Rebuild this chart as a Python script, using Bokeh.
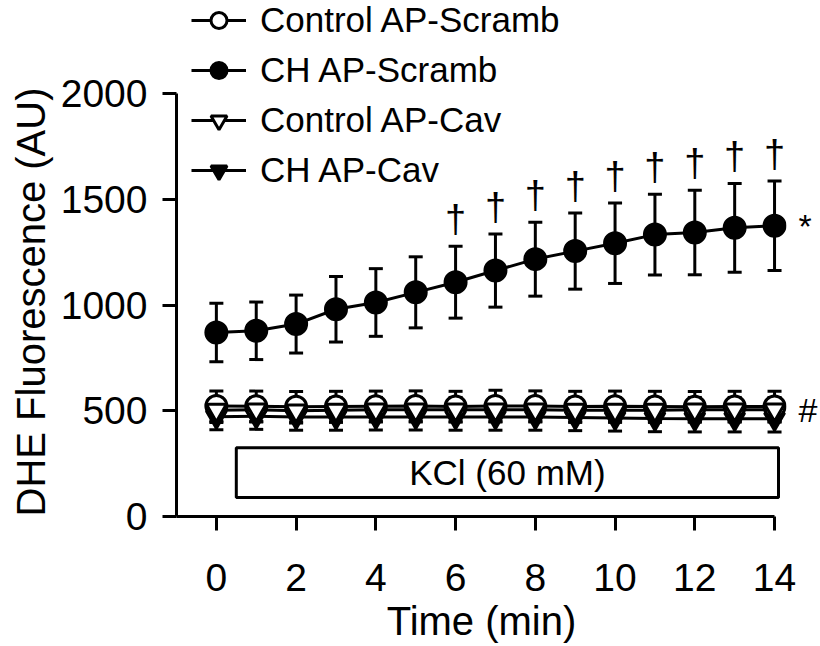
import math
from bokeh.plotting import figure
from bokeh.models import (ColumnDataSource, Whisker, TeeHead, Legend, LegendItem,
                          FixedTicker, Range1d, LinearAxis, Title)
from bokeh.core.properties import value
from bokeh.embed import file_html
from bokeh.resources import INLINE

# ---------------- data ----------------
time_min = [0, 1, 2, 3, 4, 5, 6, 7, 8, 9, 10, 11, 12, 13, 14]

ctrl_scramb = [522, 521, 519, 520, 521, 522, 520, 523, 522, 520, 521, 520, 519, 520, 520]
ctrl_scramb_err = [72, 72, 72, 72, 72, 72, 72, 74, 72, 72, 72, 72, 72, 72, 72]

ch_scramb = [870, 878, 910, 980, 1012, 1060, 1108, 1163, 1217, 1255, 1292, 1333, 1343, 1365, 1375]
ch_scramb_err = [138, 136, 137, 155, 160, 168, 170, 173, 175, 180, 190, 191, 200, 210, 212]

ctrl_cav = [503, 505, 500, 503, 505, 505, 505, 505, 505, 503, 503, 503, 505, 505, 505]
ctrl_cav_err = [58, 58, 58, 58, 58, 58, 58, 58, 58, 58, 58, 58, 58, 58, 58]

ch_cav = [472, 474, 470, 470, 471, 471, 470, 470, 470, 468, 466, 463, 462, 462, 462]
ch_cav_err = [62, 62, 62, 62, 62, 62, 62, 62, 62, 62, 62, 62, 62, 62, 62]

dagger_idx = [6, 7, 8, 9, 10, 11, 12, 13, 14]

x_ticks = [0, 2, 4, 6, 8, 10, 12, 14]
y_ticks = [0, 500, 1000, 1500, 2000]

kcl_start, kcl_end = 0.5, 14.1
kcl_low, kcl_high = 90, 325
kcl_text = "KCl (60 mM)"

FONT = "Liberation Sans"
LW = 3

p = figure(width=820, height=646, output_backend="svg", toolbar_location=None,
           x_range=Range1d(-1, 14.3), y_range=Range1d(0, 2440),
           min_border_left=176, min_border_right=32, min_border_top=0,
           min_border_bottom=130)
p.outline_line_color = None
p.xgrid.visible = False
p.ygrid.visible = False
p.background_fill_color = "white"
p.border_fill_color = "white"

for ax in (p.xaxis[0], p.yaxis[0]):
    ax.axis_line_width = LW
    ax.major_tick_line_width = LW
    ax.major_tick_in = 0
    ax.major_tick_out = 14
    ax.minor_tick_line_color = None
    ax.major_label_text_font = FONT
    ax.major_label_text_font_size = "39px"
    ax.major_label_text_color = "black"
    ax.axis_line_color = "black"
    ax.major_tick_line_color = "black"
    ax.axis_label_text_font = FONT
    ax.axis_label_text_font_size = "40px"
    ax.axis_label_text_font_style = "normal"
    ax.axis_label_text_color = "black"

p.xaxis.ticker = FixedTicker(ticks=x_ticks)
p.yaxis.ticker = FixedTicker(ticks=y_ticks)
p.xaxis.bounds = (-1, x_ticks[-1])
p.yaxis.bounds = (y_ticks[0], y_ticks[-1])
p.xaxis.major_label_standoff = 33
p.yaxis.major_label_standoff = 15
p.xaxis.axis_label = "Time (min)"
p.xaxis.axis_label_standoff = 5

# y title: starts at the bottom of the y axis, reads upwards
p.add_layout(Title(text="DHE Fluorescence (AU)", align="left", offset=0, standoff=10,
                   text_font=FONT, text_font_size="40px", text_font_style="normal",
                   text_color="black"), "left")

# significance marks for whole series, shown beside the last time point
sig_axis = LinearAxis(ticker=FixedTicker(ticks=[ch_scramb[-1], ctrl_cav[-1]]),
                      major_label_overrides={ch_scramb[-1]: "*", ctrl_cav[-1]: "#"},
                      axis_line_color=None, major_tick_line_color=None,
                      minor_tick_line_color=None, major_tick_in=0, major_tick_out=0,
                      major_label_standoff=12, major_label_text_font=FONT,
                      major_label_text_font_size="34px", major_label_text_color="black")
p.add_layout(sig_axis, "right")

# KCl bar
p.quad(left=[kcl_start], right=[kcl_end], bottom=[kcl_low], top=[kcl_high],
       fill_color="white", line_color="black", line_width=LW)
p.text(x=[(kcl_start + kcl_end) / 2], y=[(kcl_low + kcl_high) / 2], text=[kcl_text],
       text_font=value(FONT), text_font_size="35px", text_align="center",
       text_baseline="middle", text_color="black")

series = [
    ("CH AP-Cav", ch_cav, ch_cav_err, "inverted_triangle", "black"),
    ("Control AP-Scramb", ctrl_scramb, ctrl_scramb_err, "circle", "white"),
    ("Control AP-Cav", ctrl_cav, ctrl_cav_err, "inverted_triangle", "white"),
    ("CH AP-Scramb", ch_scramb, ch_scramb_err, "circle", "black"),
]
renderers = {}
for name, vals, errs, marker, fill in series:
    src = ColumnDataSource(dict(
        x=time_min, y=vals,
        upper=[v + e for v, e in zip(vals, errs)],
        lower=[v - e for v, e in zip(vals, errs)]))
    w = Whisker(source=src, base="x", upper="upper", lower="lower",
                line_width=LW, line_color="black",
                upper_head=TeeHead(size=14, line_width=LW, line_color="black"),
                lower_head=TeeHead(size=14, line_width=LW, line_color="black"))
    p.add_layout(w)
    ln = p.line("x", "y", source=src, line_width=LW, line_color="black")
    sz = 21 if marker == "circle" else 20
    sc = p.scatter("x", "y", source=src, marker=marker, size=sz,
                   fill_color=fill, line_color="black", line_width=LW)
    renderers[name] = [ln, sc]

# daggers above the CH AP-Scramb error bars
dag_x = [time_min[i] for i in dagger_idx]
dag_y = [ch_scramb[i] + ch_scramb_err[i] for i in dagger_idx]
p.text(x=dag_x, y=dag_y, text=["\u2020"] * len(dag_x), text_font=value(FONT),
       text_font_size="38px", text_align="center", text_baseline="bottom",
       y_offset=-6, text_color="black")

legend = Legend(items=[
    LegendItem(label="Control AP-Scramb", renderers=renderers["Control AP-Scramb"]),
    LegendItem(label="CH AP-Scramb", renderers=renderers["CH AP-Scramb"]),
    LegendItem(label="Control AP-Cav", renderers=renderers["Control AP-Cav"]),
    LegendItem(label="CH AP-Cav", renderers=renderers["CH AP-Cav"]),
], location=(15, 326), padding=0, margin=0, spacing=10,
    glyph_width=55, glyph_height=40, label_height=40, label_standoff=14,
    label_text_font=FONT, label_text_font_size="35px", label_text_color="black",
    border_line_color=None, background_fill_alpha=0)
p.add_layout(legend)

open("out.html", "w").write(file_html(p, INLINE))
